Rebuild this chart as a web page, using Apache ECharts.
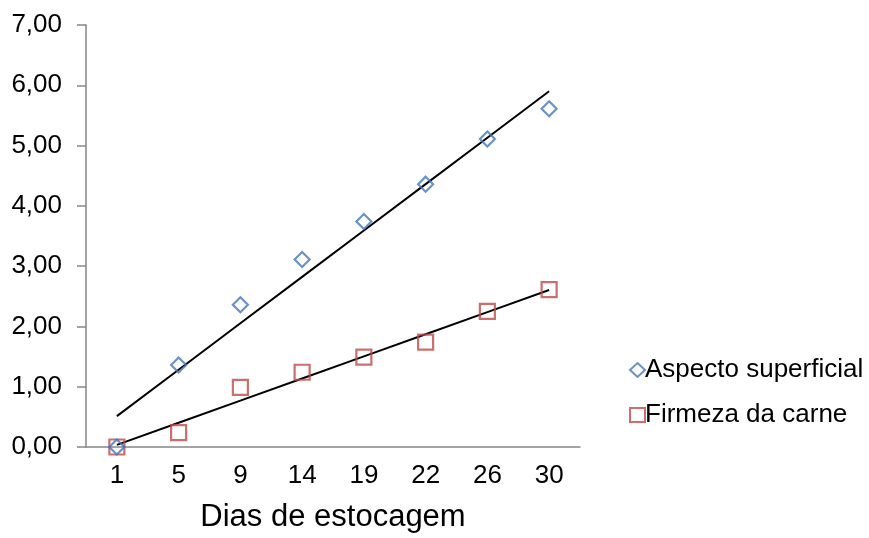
<!DOCTYPE html>
<html><head><meta charset="utf-8">
<script src="https://cdn.jsdelivr.net/npm/echarts@6/dist/echarts.min.js"></script>
<style>html,body{margin:0;padding:0;background:#fff}#c{width:869px;height:538px}</style>
</head><body><div id="c"></div>
<script>
const categories = ['1','5','9','14','19','22','26','30'];
const aspecto = [0.00, 1.36, 2.36, 3.11, 3.74, 4.36, 5.11, 5.61];
const firmeza = [0.00, 0.24, 0.99, 1.24, 1.49, 1.74, 2.25, 2.61];
const yTicks = [0,1,2,3,4,5,6,7];

function trend(vals){
  const n = vals.length;
  const xs = vals.map((_, i) => i + 1);
  const mx = xs.reduce((a,b)=>a+b,0)/n, my = vals.reduce((a,b)=>a+b,0)/n;
  let sxy=0, sxx=0;
  xs.forEach((x,i)=>{sxy+=(x-mx)*(vals[i]-my); sxx+=(x-mx)*(x-mx);});
  const b = sxy/sxx, a = my - b*mx;
  return xs.map(x => a + b*x);
}

const chart = echarts.init(document.getElementById('c'));
const font = 'Liberation Sans, Arial, sans-serif';
chart.setOption({
  animation:false,
  textStyle:{fontFamily:font},
  grid:{left:86, top:25, right:289, bottom:88, containLabel:false},
  legend:{
    orient:'vertical', left:624, top:352, itemGap:19,
    itemWidth:15, itemHeight:14,
    textStyle:{fontSize:26, color:'#000', fontFamily:font, padding:[0,0,0,-5]},
    data:['Aspecto superficial','Firmeza da carne']
  },
  xAxis:{
    type:'category', data:categories, boundaryGap:true,
    axisLine:{lineStyle:{color:'#868686', width:1.5}},
    axisTick:{show:false},
    axisLabel:{fontSize:26, color:'#000', margin:16, fontFamily:font},
    name:'Dias de estocagem', nameLocation:'middle', nameGap:55,
    nameTextStyle:{fontSize:31, color:'#000', fontFamily:font}
  },
  yAxis:{
    type:'value', min:0, max:7, interval:1,
    axisLine:{show:true, lineStyle:{color:'#868686', width:1.5}},
    axisTick:{show:true, inside:false, length:9, lineStyle:{color:'#868686', width:1.5}},
    splitLine:{show:false},
    axisLabel:{fontSize:26, color:'#000', margin:24, fontFamily:font,
      formatter:v=>v.toFixed(2).replace('.',',')}
  },
  series:[
    {name:'trendA', type:'line', data:trend(aspecto), symbol:'none',
      lineStyle:{color:'#000', width:2}, z:1, silent:true},
    {name:'trendF', type:'line', data:trend(firmeza), symbol:'none',
      lineStyle:{color:'#000', width:2}, z:1, silent:true},
    {name:'Aspecto superficial', type:'scatter', data:aspecto, symbol:'diamond', symbolSize:15,
      itemStyle:{color:'rgba(255,255,255,0)', borderColor:'#4477bb', borderWidth:2.2}, z:3},
    {name:'Firmeza da carne', type:'scatter', data:firmeza, symbol:'rect', symbolSize:15,
      itemStyle:{color:'rgba(255,255,255,0)', borderColor:'#be4b48', borderWidth:2.2}, z:2}
  ]
});
</script></body></html>
